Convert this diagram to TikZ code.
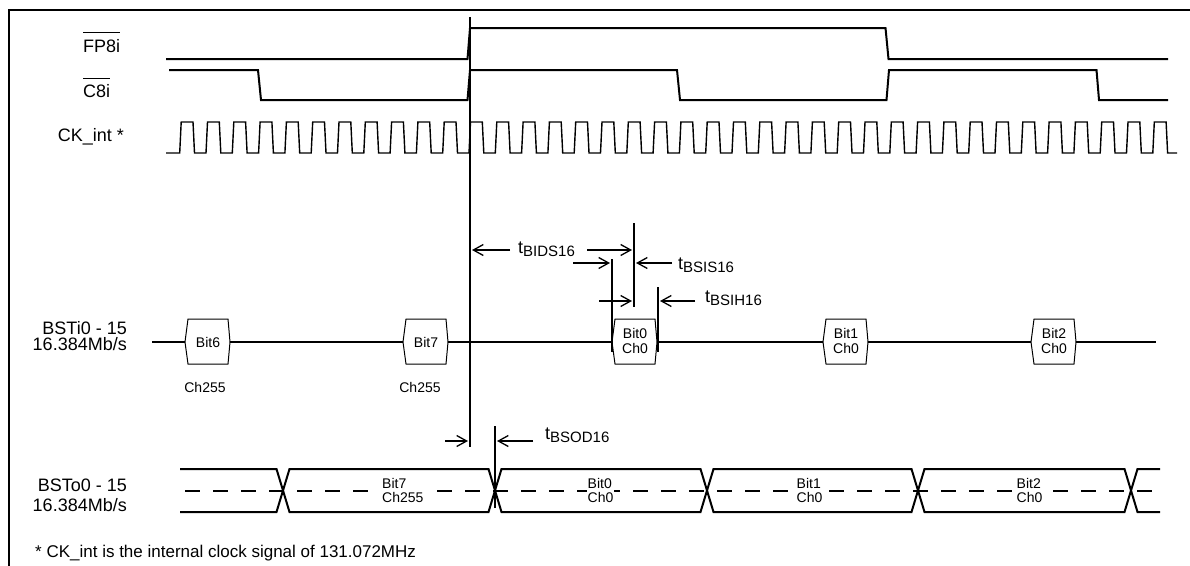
\documentclass[tikz,border=0pt]{standalone}
\usepackage{fontspec}
\setmainfont{Liberation Sans}
\usetikzlibrary{arrows.meta}
\begin{document}
\begin{tikzpicture}[x=1pt,y=-1pt,
  sig/.style={line width=2pt, line join=miter},
  ck/.style={line width=1.4pt, line join=miter},
  marker/.style={line width=2pt},
  dim/.style={line width=1.3pt, -{Straight Barb[length=10pt,width=11pt]}},
  big/.style={font=\fontsize{18}{18}\selectfont, inner sep=0pt},
  foot/.style={font=\fontsize{17}{17}\selectfont, inner sep=0pt},
  small/.style={font=\fontsize{14}{15}\selectfont, inner sep=0pt, align=center},
  bustext/.style={font=\fontsize{14}{14}\selectfont, inner sep=1pt, align=left, fill=white, anchor=west},
  tlab/.style={font=\fontsize{18}{18}\selectfont, inner sep=0pt, anchor=base west},
  hexbox/.style={line width=1pt, fill=white, line join=miter},
]
\useasboundingbox (0,0) rectangle (1190,565);

% frame (left and top edges)
\draw[line width=2pt] (9,566) -- (9,10) -- (1191,10);

% signal labels
\node[big, anchor=base west] (fp) at (83,52) {FP8i};
\draw[line width=1.3pt] ([yshift=6pt]fp.north west) -- ([yshift=6pt]fp.north east);
\node[big, anchor=base west] (c8) at (83,97) {C8i};
\draw[line width=1.3pt] ([yshift=5.5pt]c8.north west) -- ([yshift=5.5pt]c8.north east);
\node[big, anchor=base east] (ck) at (124,141) {CK\_int *};
\node[big, anchor=base east, align=right, font=\fontsize{18}{16}\selectfont] (bi) at (127,350) {BSTi0 - 15\\16.384Mb/s};
\node[big, anchor=base east, align=right, font=\fontsize{18}{20}\selectfont] (bo) at (127,511) {BSTo0 - 15\\16.384Mb/s};
\node[foot, anchor=base west] (note) at (35,557) {* CK\_int is the internal clock signal of 131.072MHz};

% FP8i
\draw[sig] (166,59) -- (467.5,59) -- (470,28) -- (885.5,28) -- (888.5,59) -- (1168,59);
% C8i
\draw[sig] (169,70) -- (258,70) -- (261,100) -- (467.5,100) -- (470,70) -- (677,70)
  -- (680,100) -- (886.5,100) -- (889,70) -- (1096.5,70) -- (1099,100) -- (1168,100);
% CK_int
\draw[ck] (166,153) foreach \k in {-11,...,26} {
  -- ({469+\k*26.3},153) -- ++(1.5,-31) -- ++(11.8,0) -- ++(1.5,31) } -- (1177,153);

% BSTi0-15 line and boxes
\draw[line width=1.8pt] (152,342) -- (1156,342);
\foreach \c in {208,426,635,846,1054} {
  \draw[hexbox] ({\c-20},319) -- ({\c+20},319) -- ({\c+22},342) -- ({\c+20},364)
    -- ({\c-20},364) -- ({\c-23},342) -- cycle;
}
\node[small] (b6) at (208,342) {Bit6};
\node[small] (b7) at (426,342) {Bit7};
\node[small] (b0) at (635,341) {Bit0\\Ch0};
\node[small] (b1) at (846,341) {Bit1\\Ch0};
\node[small] (b2) at (1054,341) {Bit2\\Ch0};
\node[small, anchor=base] (c6) at (205,392) {Ch255};
\node[small, anchor=base] (c7) at (420,392) {Ch255};

% BSTo0-15 bus
\draw[sig] (180,469) -- (276.5,469) -- (289.5,512) -- (488.5,512) -- (501.5,469)
  -- (700.5,469) -- (713.5,512) -- (911.5,512) -- (924.5,469) -- (1124.5,469)
  -- (1137.5,512) -- (1160,512);
\draw[sig] (180,512) -- (276.5,512) -- (289.5,469) -- (488.5,469) -- (501.5,512)
  -- (700.5,512) -- (713.5,469) -- (911.5,469) -- (924.5,512) -- (1124.5,512)
  -- (1137.5,469) -- (1160,469);
\draw[line width=2pt, dash pattern=on 15pt off 13pt] (185,490.5) -- (1160,490.5);
\node[bustext] (o7) at (381,490) {Bit7\\Ch255};
\node[bustext] (o0) at (586.5,490) {Bit0\\Ch0};
\node[bustext] (o1) at (795.5,490) {Bit1\\Ch0};
\node[bustext] (o2) at (1015.5,490) {Bit2\\Ch0};

% timing markers
\coordinate (reftop) at (469.5,17);
\coordinate (refbot) at (469.5,447);
\draw[marker] (reftop) -- (refbot);
\coordinate (m1t) at (634,223); \coordinate (m1b) at (634,307);
\coordinate (m2t) at (612,259); \coordinate (m2b) at (612,352);
\coordinate (m3t) at (658,287); \coordinate (m3b) at (658,352);
\coordinate (m4t) at (495,426); \coordinate (m4b) at (495,508);
\draw[marker] (m1t) -- (m1b);
\draw[marker] (m2t) -- (m2b);
\draw[marker] (m3t) -- (m3b);
\draw[marker] (m4t) -- (m4b);

% dimension arrows
\draw[dim] (510,250) -- (472,250);
\draw[dim] (587,250) -- (632,250);
\draw[dim] (573,263) -- (610,263);
\draw[dim] (672,263) -- (636,263);
\draw[dim] (599,301) -- (632,301);
\draw[dim] (695,301) -- (660,301);
\draw[dim] (445,441) -- (468,441);
\draw[dim] (533,441) -- (497,441);

% timing labels
\node[tlab] (tbids) at (518,253) {t\raisebox{-3.5pt}{\fontsize{15}{15}\selectfont BIDS16}};
\node[tlab] (tbsis) at (678,269) {t\raisebox{-3.5pt}{\fontsize{15}{15}\selectfont BSIS16}};
\node[tlab] (tbsih) at (705,302) {t\raisebox{-3.5pt}{\fontsize{15}{15}\selectfont BSIH16}};
\node[tlab] (tbsod) at (545,439) {t\raisebox{-3.5pt}{\fontsize{15}{15}\selectfont BSOD16}};
\end{tikzpicture}
\end{document}
